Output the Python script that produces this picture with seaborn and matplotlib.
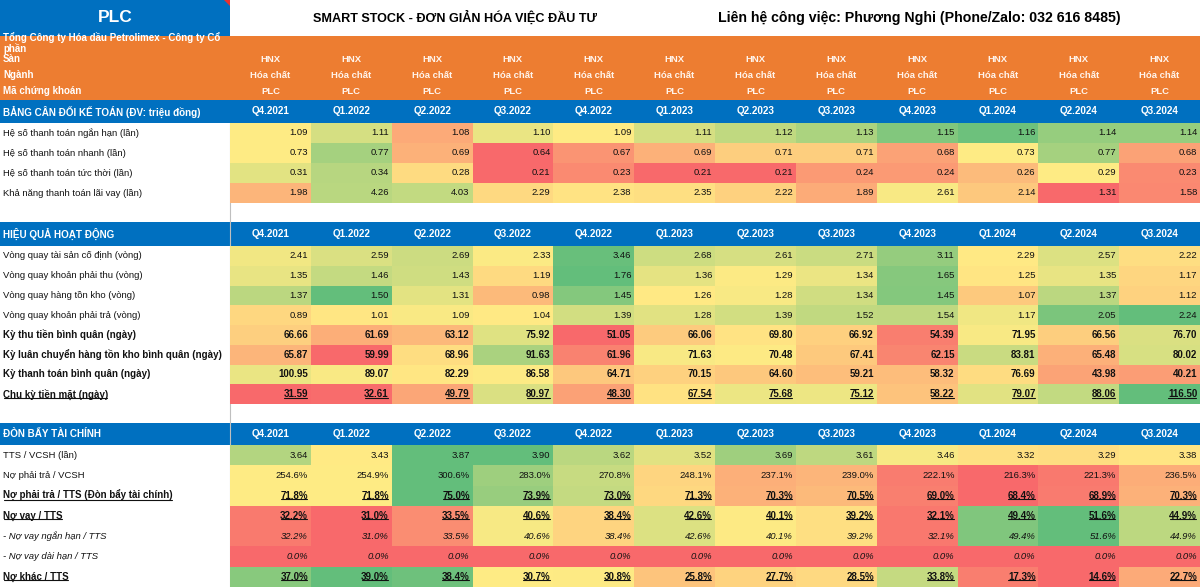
import numpy as np
import pandas as pd
import seaborn as sns
import matplotlib.pyplot as plt
from matplotlib.colors import LinearSegmentedColormap
from matplotlib.patches import Rectangle, Polygon
from matplotlib.lines import Line2D
from matplotlib.transforms import IdentityTransform

sns.set_theme(style='white')
plt.rcParams['font.family'] = ['Liberation Sans', 'DejaVu Sans']

# ---- data ----
quarters = ['Q4.2021', 'Q1.2022', 'Q2.2022', 'Q3.2022', 'Q4.2022', 'Q1.2023',
            'Q2.2023', 'Q3.2023', 'Q4.2023', 'Q1.2024', 'Q2.2024', 'Q3.2024']
ticker = 'PLC'
exchange = 'HNX'
industry = 'Hóa chất'
company = ['Tổng Công ty Hóa dầu Petrolimex - Công ty Cổ', 'phần']
title_left = 'SMART STOCK - ĐƠN GIẢN HÓA VIỆC ĐẦU TƯ'
title_right = 'Liên hệ công việc: Phương Nghi (Phone/Zalo: 032 616 8485)'
info_labels = ['Sàn', 'Ngành', 'Mã chứng khoán']

bs_title = 'BẢNG CÂN ĐỐI KẾ TOÁN (ĐV: triệu đồng)'
bs_labels = ['Hệ số thanh toán ngắn hạn (lần)', 'Hệ số thanh toán nhanh (lần)',
             'Hệ số thanh toán tức thời (lần)', 'Khả năng thanh toán lãi vay (lần)']
bs_values = [
    [1.09, 1.11, 1.08, 1.10, 1.09, 1.11, 1.12, 1.13, 1.15, 1.16, 1.14, 1.14],
    [0.73, 0.77, 0.69, 0.64, 0.67, 0.69, 0.71, 0.71, 0.68, 0.73, 0.77, 0.68],
    [0.31, 0.34, 0.28, 0.21, 0.23, 0.21, 0.21, 0.24, 0.24, 0.26, 0.29, 0.23],
    [1.98, 4.26, 4.03, 2.29, 2.38, 2.35, 2.22, 1.89, 2.61, 2.14, 1.31, 1.58],
]
bs_styles = ['n', 'n', 'n', 'n']
bs_fmts = ['num', 'num', 'num', 'num']
# colour scale anchors (low, mid, high) per row
bs_scales = [(1.07, 1.09, 1.165), (0.64, 0.73, 0.80), (0.21, 0.29, 0.40), (1.31, 2.45, 6.5)]

hq_title = 'HIỆU QUẢ HOẠT ĐỘNG'
hq_labels = ['Vòng quay tài sản cố định (vòng)', 'Vòng quay khoản phải thu (vòng)',
             'Vòng quay hàng tồn kho (vòng)', 'Vòng quay khoản phải trả (vòng)',
             'Kỳ thu tiền bình quân (ngày)', 'Kỳ luân chuyển hàng tồn kho bình quân (ngày)',
             'Kỳ thanh toán bình quân (ngày)', 'Chu kỳ tiền mặt (ngày)']
hq_values = [
    [2.41, 2.59, 2.69, 2.33, 3.46, 2.68, 2.61, 2.71, 3.11, 2.29, 2.57, 2.22],
    [1.35, 1.46, 1.43, 1.19, 1.76, 1.36, 1.29, 1.34, 1.65, 1.25, 1.35, 1.17],
    [1.37, 1.50, 1.31, 0.98, 1.45, 1.26, 1.28, 1.34, 1.45, 1.07, 1.37, 1.12],
    [0.89, 1.01, 1.09, 1.04, 1.39, 1.28, 1.39, 1.52, 1.54, 1.17, 2.05, 2.24],
    [66.66, 61.69, 63.12, 75.92, 51.05, 66.06, 69.80, 66.92, 54.39, 71.95, 66.56, 76.70],
    [65.87, 59.99, 68.96, 91.63, 61.96, 71.63, 70.48, 67.41, 62.15, 83.81, 65.48, 80.02],
    [100.95, 89.07, 82.29, 86.58, 64.71, 70.15, 64.60, 59.21, 58.32, 76.69, 43.98, 40.21],
    [31.59, 32.61, 49.79, 80.97, 48.30, 67.54, 75.68, 75.12, 58.22, 79.07, 88.06, 116.50],
]
hq_styles = ['n', 'n', 'n', 'n', 'b', 'b', 'b', 'u']
hq_fmts = ['num'] * 8
hq_scales = [(1.5, 2.3, 3.5), (0.6, 1.28, 1.76), (0.5, 1.27, 1.50), (0.0, 1.05, 2.24),
             (51.0, 71.0, 95.0), (60.0, 70.0, 110.0), (10.0, 85.0, 200.0), (31.59, 70.0, 116.5)]

db_title = 'ĐÒN BẨY TÀI CHÍNH'
db_labels = ['TTS / VCSH (lần)', 'Nợ phải trả / VCSH', 'Nợ phải trả / TTS (Đòn bẩy tài chính)',
             'Nợ vay / TTS', '- Nợ vay ngắn hạn / TTS', '- Nợ vay dài hạn / TTS', 'Nợ khác / TTS']
db_values = [
    [3.64, 3.43, 3.87, 3.90, 3.62, 3.52, 3.69, 3.61, 3.46, 3.32, 3.29, 3.38],
    [254.6, 254.9, 300.6, 283.0, 270.8, 248.1, 237.1, 239.0, 222.1, 216.3, 221.3, 236.5],
    [71.8, 71.8, 75.0, 73.9, 73.0, 71.3, 70.3, 70.5, 69.0, 68.4, 68.9, 70.3],
    [32.2, 31.0, 33.5, 40.6, 38.4, 42.6, 40.1, 39.2, 32.1, 49.4, 51.6, 44.9],
    [32.2, 31.0, 33.5, 40.6, 38.4, 42.6, 40.1, 39.2, 32.1, 49.4, 51.6, 44.9],
    [0.0, 0.0, 0.0, 0.0, 0.0, 0.0, 0.0, 0.0, 0.0, 0.0, 0.0, 0.0],
    [37.0, 39.0, 38.4, 30.7, 30.8, 25.8, 27.7, 28.5, 33.8, 17.3, 14.6, 22.7],
]
db_styles = ['n', 'n', 'u', 'u', 'i', 'i', 'u']
db_fmts = ['num', 'pct', 'pct', 'pct', 'pct', 'pct', 'pct']
db_scales = [(2.0, 3.44, 3.85), (216.3, 254.6, 300.6), (68.4, 71.8, 75.0), (31.0, 40.0, 51.6),
             (31.0, 40.0, 51.6), (0.0, 0.1, 0.2), (14.6, 30.7, 39.0)]

# ---- layout ----
W, H = 1200, 587
LEFT = 230
COLW = (W - LEFT) / len(quarters)
BLUE = '#0070C0'
ORANGE = '#ED7D31'
cmap = LinearSegmentedColormap.from_list('xl3', ['#F8696B', '#FFEB84', '#63BE7B'])

FONT = {'n': dict(fontsize=6.8), 'b': dict(fontsize=7.0, fontweight='bold'),
        'u': dict(fontsize=7.0, fontweight='bold'), 'i': dict(fontsize=6.8, fontstyle='italic')}


def score(vals, lo, mid, hi):
    v = np.asarray(vals, float)
    s = np.where(v <= mid, 0.5 * (v - lo) / (mid - lo), 0.5 + 0.5 * (v - mid) / (hi - mid))
    return np.clip(s, 0, 1)


fig = plt.figure(figsize=(12, 5.87), dpi=100)
bg = fig.add_axes([0, 0, 1, 1])
bg.set_xlim(0, W)
bg.set_ylim(H, 0)
bg.axis('off')

underlined = []

# title row
bg.add_patch(Rectangle((0, 0), LEFT, 36, color=BLUE, lw=0))
bg.add_patch(Polygon([[224, 0], [230, 0], [230, 6]], color='#E8312F', lw=0))
bg.text(115, 18, ticker, color='white', fontsize=12.5, fontweight='bold', ha='center', va='center')
bg.text(455, 18, title_left, color='black', fontsize=9.1, fontweight='bold', ha='center', va='center')
bg.text(919, 18, title_right, color='black', fontsize=10.2, fontweight='bold', ha='center', va='center')

# company info block (name is clipped at the top like the spreadsheet cell)
orange = Rectangle((0, 36), W, 64, color=ORANGE, lw=0)
bg.add_patch(orange)
for k, line in enumerate(company):
    t = bg.text(3, 37.5 + 10.5 * k, line, color='white', fontsize=7, fontweight='bold', va='center')
    t.set_clip_path(orange)
info_vals = [exchange, industry, ticker]
for k, (lab, val) in enumerate(zip(info_labels, info_vals)):
    y = 59.5 + 16 * k
    bg.text(3, y, lab, color='white', fontsize=7, fontweight='bold', va='center')
    for j in range(len(quarters)):
        bg.text(LEFT + (j + 0.5) * COLW, y, val, color='#FFF4EC', fontsize=6.8,
                fontweight='bold', ha='center', va='center')

bg.plot([229.5, 229.5], [123, H], color='#BFBFBF', lw=0.8)


def header(y0, y1, title):
    bg.add_patch(Rectangle((0, y0), W, y1 - y0, color=BLUE, lw=0))
    yc = (y0 + y1) / 2
    bg.text(3, yc, title, color='white', fontsize=7.1, fontweight='bold', va='center')
    for j, q in enumerate(quarters):
        bg.text(LEFT + (j + 0.5) * COLW, yc, q, color='white', fontsize=7.1,
                fontweight='bold', ha='center', va='center')


def section(y0, y1, labels, values, styles, fmts, scales):
    n = len(labels)
    rh = (y1 - y0) / n
    ax = fig.add_axes([LEFT / W, 1 - y1 / H, (W - LEFT) / W, (y1 - y0) / H])
    sc = np.vstack([score(r, *s) for r, s in zip(values, scales)])
    sns.heatmap(pd.DataFrame(sc, index=labels, columns=quarters), ax=ax, cmap=cmap,
                vmin=0, vmax=1, cbar=False, xticklabels=False, yticklabels=False)
    ax.set_xlabel('')
    ax.set_ylabel('')
    for i, lab in enumerate(labels):
        st = styles[i]
        t = bg.text(3, y0 + (i + 0.5) * rh, lab, color='#111111', va='center', **FONT[st])
        if st == 'u':
            underlined.append(t)
        for j in range(len(quarters)):
            v = values[i][j]
            txt = f'{v:.1f}%' if fmts[i] == 'pct' else f'{v:.2f}'
            t = ax.text(j + 0.965, i + 0.5, txt, color='#111111', ha='right', va='center', **FONT[st])
            if st == 'u':
                underlined.append(t)


header(100, 123, bs_title)
section(123, 203, bs_labels, bs_values, bs_styles, bs_fmts, bs_scales)
header(222, 246, hq_title)
section(246, 404, hq_labels, hq_values, hq_styles, hq_fmts, hq_scales)
header(423, 445, db_title)
section(445, H, db_labels, db_values, db_styles, db_fmts, db_scales)

# underline some rows like the spreadsheet
fig.canvas.draw()
for t in underlined:
    bb = t.get_window_extent()
    y = bb.y0 + 1.6
    fig.add_artist(Line2D([bb.x0 + 0.5, bb.x1 - 1], [y, y], transform=IdentityTransform(),
                          color='#111111', lw=0.8))

fig.savefig('out.png', dpi=100)
